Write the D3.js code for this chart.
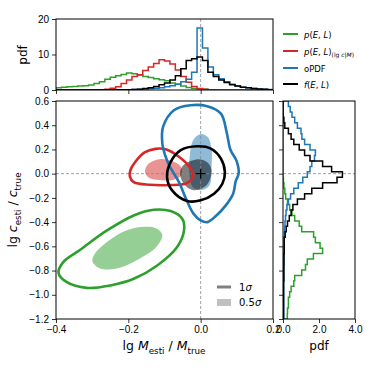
<!DOCTYPE html>
<html>
<head>
<meta charset="utf-8">
<script src="https://cdn.jsdelivr.net/npm/d3@7"></script>
<style>
  body { margin: 0; background: #fff; }
  svg { font-family: "DejaVu Sans", sans-serif; }
  .tick text { font-size: 10px; fill: #000; }
  .tick line { stroke: #000; stroke-width: 0.8; }
</style>
</head>
<body>
<div id="chart"></div>
<script>
(function(d3) {
  'use strict';

  // ---- data ----
  // top histograms: 40 bins of lg M_esti/M_true from -0.4 (width 0.015)
  var topBinStart = -0.4, topBinWidth = 0.015;
  var topGreen = [0.6,0.8,0.9,1.0,1.1,1.2,1.4,1.8,2.3,3.0, 3.6,4.0,4.4,4.8,4.6,4.2,3.8,3.5,3.2,2.9,
                  2.6,2.0,1.6,1.1,0.7,0.45,0.3,0.2,0.1,0.05, 0,0,0,0,0,0,0,0,0,0];
  var topRed   = [0,0,0,0,0,0,0,0.05,0.1,0.2, 0.5,0.9,1.8,2.8,3.8,4.3,5.5,6.5,7.5,8.5,
                  8.2,7.3,5.6,3.8,2.2,1.0,0.4,0.2,0.1,0.05, 0,0,0,0,0,0,0,0,0,0];
  var topBlue  = [0,0,0,0,0,0,0,0,0,0, 0.02,0.05,0.08,0.1,0.15,0.2,0.3,0.4,0.5,0.6,
                  0.9,1.2,1.6,2.3,3.0,5.0,17.5,11.8,6.5,4.3, 3.2,2.3,1.6,1.1,0.8,0.6,0.4,0.3,0.2,0.15];
  var topBlack = [0,0,0,0,0,0,0,0,0,0, 0.05,0.05,0.1,0.1,0.15,0.2,0.4,0.6,1.0,1.5,
                  2.0,2.8,4.0,6.0,8.3,8.8,9.3,8.3,5.0,3.8, 2.8,2.1,1.5,1.1,0.8,0.6,0.4,0.3,0.2,0.1];

  // right histograms: 40 bins of lg c_esti/c_true from -1.2 (width 0.045)
  var rightBinStart = -1.2, rightBinWidth = 0.045;
  var rightGreen = [0.24,0.25,0.3,0.3,0.37,0.45,0.6,0.65,1.04,1.25, 1.35,1.69,2.2,2.06,1.8,1.7,1.04,0.9,0.65,0.5,
                    0.37,0.25,0.15,0.1,0.05,0.02,0,0,0,0, 0,0,0,0,0,0,0,0,0,0];
  var rightBlue  = [0.04,0.04,0.04,0.04,0.04,0.04,0.04,0.04,0.04,0.04, 0.06,0.06,0.06,0.06,0.06,0.08,0.09,0.11,0.14,0.17,
                    0.22,0.3,0.42,0.6,0.85,1.1,1.35,1.5,1.6,1.75, 1.8,1.5,1.2,1.05,1.0,0.8,0.65,0.5,0.4,0.3];
  var rightBlack = [0.03,0.03,0.03,0.03,0.03,0.03,0.03,0.05,0.05,0.05, 0.05,0.05,0.07,0.07,0.07,0.12,0.18,0.25,0.35,0.45,
                    0.55,0.8,1.2,1.6,2.2,3.0,3.3,2.7,2.2,1.5, 1.2,0.9,0.6,0.45,0.3,0.1,0.05,0,0,0];

  // contours [lg M, lg c]
  var greenLine = [[-0.393,-0.82],[-0.37,-0.896],[-0.315,-0.943],[-0.25,-0.923],[-0.185,-0.868],[-0.12,-0.758],
                   [-0.065,-0.606],[-0.046,-0.469],[-0.051,-0.372],[-0.083,-0.309],[-0.13,-0.298],[-0.185,-0.345],
                   [-0.259,-0.469],[-0.333,-0.628],[-0.38,-0.73]];
  var greenFill = [[-0.299,-0.728],[-0.278,-0.783],[-0.232,-0.783],[-0.168,-0.7],[-0.122,-0.604],[-0.106,-0.507],
                   [-0.122,-0.452],[-0.159,-0.439],[-0.214,-0.48],[-0.269,-0.59],[-0.295,-0.673]];
  var redLine   = [[-0.196,-0.02],[-0.185,-0.07],[-0.14,-0.092],[-0.085,-0.094],[-0.04,-0.08],[-0.02,-0.02],
                   [-0.032,0.06],[-0.06,0.14],[-0.095,0.2],[-0.125,0.205],[-0.155,0.175],[-0.18,0.1],[-0.194,0.03]];
  var redFill   = [[-0.154,0.02],[-0.145,-0.03],[-0.115,-0.053],[-0.075,-0.05],[-0.053,-0.01],[-0.055,0.06],
                   [-0.08,0.105],[-0.115,0.12],[-0.145,0.08]];
  var blueLine  = [[-0.028,0.565],[-0.074,0.524],[-0.104,0.386],[-0.106,0.25],[-0.098,0.15],[-0.085,0.057],
                   [-0.06,-0.07],[-0.039,-0.218],[-0.02,-0.33],[0,-0.386],[0.0185,-0.4],[0.042,-0.35],[0.07,-0.26],
                   [0.09,-0.163],[0.097,-0.06],[0.105,0],[0.1,0.1],[0.082,0.2],[0.072,0.34],[0.056,0.496],[0.018,0.557]];
  var blueFill  = [[0,0.327],[-0.02,0.28],[-0.03,0.15],[-0.031,0],[-0.022,-0.11],[0,-0.136],[0.024,-0.1],
                   [0.03,0.05],[0.03,0.2],[0.02,0.3]];
  var blackLine = [[-0.009,0.226],[-0.056,0.193],[-0.083,0.096],[-0.093,-0.028],[-0.079,-0.138],[-0.037,-0.226],
                   [0,-0.22],[0.037,-0.165],[0.06,-0.083],[0.067,0.014],[0.056,0.124],[0.028,0.207]];
  var blackFill = [[-0.057,0],[-0.048,0.07],[-0.011,0.118],[0.018,0.095],[0.03,0.03],[0.017,-0.094],
                   [-0.02,-0.136],[-0.045,-0.09]];

  var xTicks = [-0.4,-0.2,0.0,0.2];
  var yTicks = [-1.2,-1.0,-0.8,-0.6,-0.4,-0.2,0.0,0.2,0.4,0.6];
  var topYTicks = [0,10,20];
  var rightXTicks = [0,2,4];

  var green = '#2ca02c', red = '#d62728', blue = '#1f77b4', black = '#000000';

  // ---- layout ----
  var width = 374, height = 374;
  var main = {l: 56, r: 273, t: 101, b: 319};
  var top = {l: 56, r: 273, t: 19, b: 90};
  var side = {l: 283, r: 355, t: 101, b: 319};

  var x = d3.scaleLinear().domain([-0.4, 0.2]).range([main.l, main.r]);
  var y = d3.scaleLinear().domain([-1.2, 0.6]).range([main.b, main.t]);
  var yTop = d3.scaleLinear().domain([0, 20]).range([top.b, top.t]);
  var xSide = d3.scaleLinear().domain([0, 4]).range([side.l, side.r]);

  var svg = d3.select('#chart').append('svg')
    .attr('width', width).attr('height', height);

  var defs = svg.append('defs');
  [['clipMain', main], ['clipTop', top], ['clipSide', side]].forEach(function(c) {
    defs.append('clipPath').attr('id', c[0]).append('rect')
      .attr('x', c[1].l).attr('y', c[1].t)
      .attr('width', c[1].r - c[1].l).attr('height', c[1].b - c[1].t);
  });

  function fmt(d) { return d3.format('.1f')(d); }

  // rich text with italic / subscript parts
  function rich(textSel, parts, size) {
    var shift = 0;
    parts.forEach(function(p) {
      var ts = textSel.append('tspan').text(p.t);
      if (p.i) ts.attr('font-style', 'italic');
      var target = p.sub ? size * 0.3 : 0;
      ts.attr('font-size', p.sub ? size * 0.7 : size);
      if (target !== shift) { ts.attr('dy', target - shift); shift = target; }
    });
  }

  function stepPoints(start, w, values) {
    var pts = [[start, 0]];
    values.forEach(function(v, k) {
      pts.push([start + k * w, v]);
      pts.push([start + (k + 1) * w, v]);
    });
    pts.push([start + values.length * w, 0]);
    return pts;
  }

  // ---- top panel ----
  var gTop = svg.append('g').attr('clip-path', 'url(#clipTop)');
  gTop.append('line')
    .attr('x1', x(0)).attr('x2', x(0)).attr('y1', top.t).attr('y2', top.b)
    .attr('stroke', '#888').attr('stroke-width', 0.8).attr('stroke-dasharray', '3,2');

  var topLine = d3.line()
    .x(function(d) { return x(d[0]); })
    .y(function(d) { return yTop(d[1]); });

  [[topGreen, green], [topRed, red], [topBlue, blue], [topBlack, black]].forEach(function(s) {
    gTop.append('path')
      .attr('d', topLine(stepPoints(topBinStart, topBinWidth, s[0])))
      .attr('fill', 'none').attr('stroke', s[1]).attr('stroke-width', 1.5);
  });

  svg.append('g').attr('transform', 'translate(' + top.l + ',0)')
    .call(d3.axisLeft(yTop).tickValues(topYTicks).tickSize(4).tickPadding(3).tickSizeOuter(0))
    .call(function(g) { g.select('.domain').remove(); });
  svg.append('g').attr('transform', 'translate(0,' + top.b + ')')
    .call(d3.axisBottom(x).tickValues(xTicks).tickFormat('').tickSize(4).tickSizeOuter(0))
    .call(function(g) { g.select('.domain').remove(); });

  svg.append('text').attr('transform', 'translate(27,55) rotate(-90)')
    .attr('text-anchor', 'middle').attr('font-size', 12).text('pdf');

  // ---- main panel ----
  var gMain = svg.append('g').attr('clip-path', 'url(#clipMain)');
  var shape = d3.line()
    .x(function(d) { return x(d[0]); })
    .y(function(d) { return y(d[1]); })
    .curve(d3.curveCatmullRomClosed.alpha(0.5));

  [[greenFill, green], [redFill, red], [blueFill, blue], [blackFill, black]].forEach(function(s) {
    gMain.append('path').attr('d', shape(s[0]))
      .attr('fill', s[1]).attr('fill-opacity', 0.5).attr('stroke', 'none');
  });

  gMain.append('line')
    .attr('x1', x(0)).attr('x2', x(0)).attr('y1', main.t).attr('y2', main.b)
    .attr('stroke', '#888').attr('stroke-width', 0.8).attr('stroke-dasharray', '3,2');
  gMain.append('line')
    .attr('x1', main.l).attr('x2', main.r).attr('y1', y(0)).attr('y2', y(0))
    .attr('stroke', '#888').attr('stroke-width', 0.8).attr('stroke-dasharray', '3,2');

  [[greenLine, green], [redLine, red], [blueLine, blue], [blackLine, black]].forEach(function(s) {
    gMain.append('path').attr('d', shape(s[0]))
      .attr('fill', 'none').attr('stroke', s[1]).attr('stroke-width', 2.6);
  });

  // true value marker
  gMain.append('path')
    .attr('d', 'M' + (x(0) - 5) + ',' + y(0) + 'H' + (x(0) + 5) + 'M' + x(0) + ',' + (y(0) - 5) + 'V' + (y(0) + 5))
    .attr('stroke', '#000').attr('stroke-width', 1.3);

  svg.append('g').attr('transform', 'translate(' + main.l + ',0)')
    .call(d3.axisLeft(y).tickValues(yTicks).tickFormat(fmt).tickSize(4).tickPadding(3).tickSizeOuter(0))
    .call(function(g) { g.select('.domain').remove(); });
  svg.append('g').attr('transform', 'translate(0,' + main.b + ')')
    .call(d3.axisBottom(x).tickValues(xTicks).tickFormat(fmt).tickSize(4).tickPadding(3).tickSizeOuter(0))
    .call(function(g) { g.select('.domain').remove(); });

  // sigma legend
  var lg = svg.append('g');
  lg.append('line').attr('x1', 217).attr('x2', 231).attr('y1', 287).attr('y2', 287)
    .attr('stroke', '#808080').attr('stroke-width', 3);
  lg.append('rect').attr('x', 217).attr('y', 299).attr('width', 14).attr('height', 7)
    .attr('fill', '#c0c0c0');
  rich(lg.append('text').attr('x', 239).attr('y', 291), [{t: '1'}, {t: 'σ', i: true}], 10);
  rich(lg.append('text').attr('x', 239).attr('y', 306), [{t: '0.5'}, {t: 'σ', i: true}], 10);

  rich(svg.append('text').attr('x', 164).attr('y', 350).attr('text-anchor', 'middle'),
    [{t: 'lg '}, {t: 'M', i: true}, {t: 'esti', sub: true}, {t: ' / '}, {t: 'M', i: true}, {t: 'true', sub: true}], 12.5);
  rich(svg.append('text').attr('transform', 'translate(17,210) rotate(-90)').attr('text-anchor', 'middle'),
    [{t: 'lg '}, {t: 'c', i: true}, {t: 'esti', sub: true}, {t: ' / '}, {t: 'c', i: true}, {t: 'true', sub: true}], 12.5);

  // ---- side panel ----
  var gSide = svg.append('g').attr('clip-path', 'url(#clipSide)');
  gSide.append('line')
    .attr('x1', side.l).attr('x2', side.r).attr('y1', y(0)).attr('y2', y(0))
    .attr('stroke', '#888').attr('stroke-width', 0.8).attr('stroke-dasharray', '3,2');

  var sideLine = d3.line()
    .x(function(d) { return xSide(d[1]); })
    .y(function(d) { return y(d[0]); });

  [[rightGreen, green], [rightBlue, blue], [rightBlack, black]].forEach(function(s) {
    gSide.append('path')
      .attr('d', sideLine(stepPoints(rightBinStart, rightBinWidth, s[0])))
      .attr('fill', 'none').attr('stroke', s[1]).attr('stroke-width', 1.5);
  });

  svg.append('g').attr('transform', 'translate(' + side.l + ',0)')
    .call(d3.axisLeft(y).tickValues(yTicks).tickFormat('').tickSize(4).tickSizeOuter(0))
    .call(function(g) { g.select('.domain').remove(); });
  svg.append('g').attr('transform', 'translate(0,' + side.b + ')')
    .call(d3.axisBottom(xSide).tickValues(rightXTicks).tickSize(4).tickPadding(3).tickSizeOuter(0))
    .call(function(g) { g.select('.domain').remove(); });

  svg.append('text').attr('x', 319).attr('y', 350)
    .attr('text-anchor', 'middle').attr('font-size', 12).text('pdf');

  // frames
  [main, top, side].forEach(function(p) {
    svg.append('rect').attr('x', p.l).attr('y', p.t)
      .attr('width', p.r - p.l).attr('height', p.b - p.t)
      .attr('fill', 'none').attr('stroke', '#000').attr('stroke-width', 1);
  });

  // ---- series legend ----
  var legendColors = [green, red, blue, black];
  var legendY = [34, 51, 68, 84];
  var legendParts = [
    [{t: 'p', i: true}, {t: '('}, {t: 'E', i: true}, {t: ', '}, {t: 'L', i: true}, {t: ')'}],
    [{t: 'p', i: true}, {t: '('}, {t: 'E', i: true}, {t: ', '}, {t: 'L', i: true}, {t: ')'},
     {t: '(lg ', sub: true}, {t: 'c', i: true, sub: true}, {t: '|', sub: true}, {t: 'M', i: true, sub: true}, {t: ')', sub: true}],
    [{t: 'oPDF'}],
    [{t: 'f', i: true}, {t: '('}, {t: 'E', i: true}, {t: ', '}, {t: 'L', i: true}, {t: ')'}]
  ];
  var leg = svg.append('g').selectAll('g').data(legendColors).enter().append('g');
  leg.append('line')
    .attr('x1', 283).attr('x2', 298)
    .attr('y1', function(d, i) { return legendY[i]; })
    .attr('y2', function(d, i) { return legendY[i]; })
    .attr('stroke', function(d) { return d; }).attr('stroke-width', 2);
  leg.each(function(d, i) {
    rich(d3.select(this).append('text').attr('x', 304).attr('y', legendY[i] + 3.5), legendParts[i], 8.5);
  });

})(window.d3);
</script>
</body>
</html>
